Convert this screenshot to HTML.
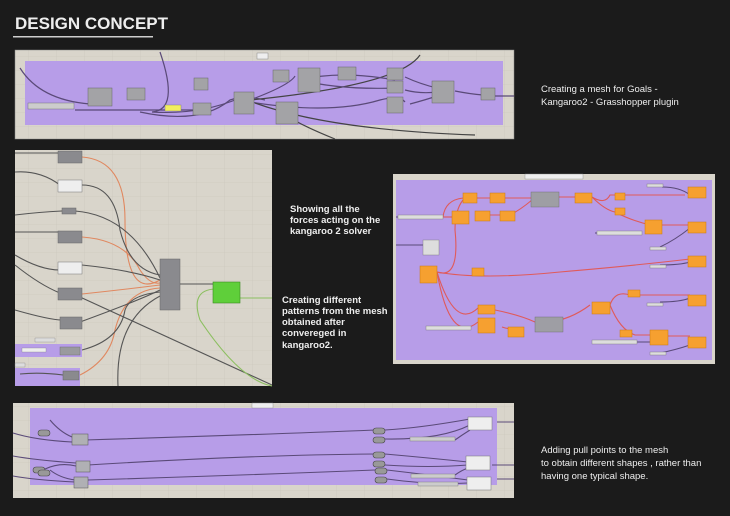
<!DOCTYPE html>
<html><head><meta charset="utf-8"><style>
html,body{margin:0;padding:0;background:#1b1b1b;}
svg{display:block}
text{font-family:"Liberation Sans",sans-serif;fill:#eee}
</style></head><body>
<svg width="730" height="516" viewBox="0 0 730 516" xmlns="http://www.w3.org/2000/svg">
<defs>
<pattern id="g" width="28" height="14" patternUnits="userSpaceOnUse"><rect width="28" height="14" fill="#d9d5cb"/><path d="M0 0H28M0 0V14" stroke="#c9c5ba" stroke-width="0.6"/></pattern>
</defs>
<rect width="730" height="516" fill="#1b1b1b"/>
<text x="15" y="29" font-size="17" font-weight="bold" fill="#f0f0f0">DESIGN CONCEPT</text>
<rect x="13" y="36" width="140" height="1.5" fill="#cfcfcf"/>

<!-- Panel 1 -->
<rect x="15" y="50" width="499" height="89" fill="url(#g)" stroke="#888" stroke-width="0.5"/>
<rect x="25" y="61" width="478" height="64" fill="#b79de8"/>
<rect x="257" y="53" width="11" height="6" fill="#eee" stroke="#777" stroke-width="0.4"/>
<g fill="none" stroke="#5a4a78" stroke-width="1.2">
<path d="M20 68 Q40 100 90 104"/><path d="M160 52 Q180 110 152 112 Q200 115 240 98"/>
<path d="M75 110 H195"/><path d="M140 112 Q200 125 230 100 Q245 95 265 100"/>
<path d="M250 100 Q290 85 295 76"/><path d="M250 100 Q400 85 420 55" stroke="#444"/>
<path d="M250 102 Q330 115 380 100 Q400 95 405 102"/><path d="M255 103 Q330 130 475 135" stroke="#444"/>
<path d="M300 80 Q340 70 395 80"/><path d="M300 80 Q340 90 395 88"/>
<path d="M405 77 Q420 84 437 88"/><path d="M405 90 Q420 94 437 92"/><path d="M410 104 Q425 100 437 96"/>
<path d="M455 91 Q470 94 483 95"/><path d="M495 96 H514"/>
<path d="M280 112 Q300 125 335 139" stroke="#444"/>
</g>
<g fill="#a3a3a6" stroke="#666" stroke-width="0.5">
<rect x="88" y="88" width="24" height="18"/><rect x="127" y="88" width="18" height="12"/>
<rect x="194" y="78" width="14" height="12"/><rect x="234" y="92" width="20" height="22"/>
<rect x="273" y="70" width="16" height="12"/><rect x="298" y="68" width="22" height="24"/>
<rect x="338" y="67" width="18" height="13"/><rect x="387" y="68" width="16" height="12"/>
<rect x="387" y="81" width="16" height="12"/><rect x="387" y="97" width="16" height="16"/>
<rect x="432" y="81" width="22" height="22"/><rect x="481" y="88" width="14" height="12"/>
<rect x="276" y="102" width="22" height="22"/><rect x="193" y="103" width="18" height="12"/>
</g>
<rect x="28" y="103" width="46" height="6" fill="#ccc" stroke="#666" stroke-width="0.4"/>
<rect x="165" y="105" width="16" height="6" fill="#f2ee60" stroke="#777" stroke-width="0.4"/>
<text x="541" y="92" font-size="9.5">Creating a mesh for Goals -</text>
<text x="541" y="105" font-size="9.5">Kangaroo2 - Grasshopper plugin</text>

<!-- Panel 2 -->
<rect x="15" y="150" width="257" height="236" fill="url(#g)"/>
<rect x="15" y="344" width="67" height="13" fill="#b79de8"/>
<rect x="15" y="368" width="65" height="18" fill="#b79de8"/>
<rect x="35" y="338" width="20" height="4" fill="#ddd" stroke="#777" stroke-width="0.3"/>
<rect x="15" y="363" width="10" height="4" fill="#ddd" stroke="#777" stroke-width="0.3"/>
<g fill="none" stroke-width="1.1">
<g stroke="#e08860">
<path d="M82 157 Q125 160 125 220 Q125 300 160 280"/><path d="M82 237 Q125 240 140 270 Q150 285 160 283"/>
<path d="M82 294 Q120 290 160 285"/><path d="M80 375 Q110 360 115 330 Q125 290 160 288"/>
</g>
<g stroke="#555">
<path d="M15 153 H58"/><path d="M15 172 Q40 170 60 185"/><path d="M82 185 Q115 185 120 230 Q130 270 160 275"/>
<path d="M15 215 Q40 212 62 211"/><path d="M75 211 Q130 215 160 278"/><path d="M15 232 H60"/>
<path d="M15 255 Q40 270 60 270"/><path d="M82 265 Q130 270 160 280"/>
<path d="M15 265 Q40 285 60 293"/><path d="M80 297 L272 385"/>
<path d="M15 310 Q50 320 62 320"/><path d="M80 322 Q140 300 160 290"/>
<path d="M82 350 Q120 340 125 310 Q130 295 160 292"/><path d="M118 386 Q115 320 160 296"/>
<path d="M20 374 Q40 372 63 375"/>
<path d="M180 284 H213"/>
</g>
<g stroke="#8cbf60"><path d="M240 298 H272"/><path d="M215 289 Q190 290 200 320 Q240 380 272 386"/></g>
</g>
<g fill="#8a8a8e" stroke="#666" stroke-width="0.5">
<rect x="58" y="151" width="24" height="12"/><rect x="62" y="208" width="14" height="6"/>
<rect x="58" y="231" width="24" height="12"/><rect x="58" y="288" width="24" height="12"/>
<rect x="60" y="317" width="22" height="12"/><rect x="63" y="371" width="16" height="9"/>
<rect x="160" y="259" width="20" height="51"/>
</g>
<rect x="58" y="180" width="24" height="12" fill="#eee" stroke="#777" stroke-width="0.5"/>
<rect x="58" y="262" width="24" height="12" fill="#eee" stroke="#777" stroke-width="0.5"/>
<rect x="60" y="347" width="20" height="8" fill="#9a9a9e" stroke="#666" stroke-width="0.4"/>
<rect x="22" y="348" width="24" height="4" fill="#eee" stroke="#777" stroke-width="0.3"/>
<rect x="213" y="282" width="27" height="21" fill="#5fcf3a" stroke="#3a8a20" stroke-width="0.6"/>
<text x="290" y="212" font-size="9.5" font-weight="bold">Showing all the</text>
<text x="290" y="223" font-size="9.5" font-weight="bold">forces acting on the</text>
<text x="290" y="234" font-size="9.5" font-weight="bold">kangaroo 2 solver</text>
<text x="282" y="303" font-size="9.5" font-weight="bold">Creating different</text>
<text x="282" y="314" font-size="9.5" font-weight="bold">patterns from the mesh</text>
<text x="282" y="325" font-size="9.5" font-weight="bold">obtained after</text>
<text x="282" y="336" font-size="9.5" font-weight="bold">convereged in</text>
<text x="282" y="348" font-size="9.5" font-weight="bold">kangaroo2.</text>

<!-- Panel 3 -->
<rect x="393" y="174" width="322" height="190" fill="#d9d5cb"/>
<rect x="396" y="180" width="316" height="180" fill="#b79de8"/>
<rect x="525" y="174" width="58" height="5" fill="#eee" stroke="#888" stroke-width="0.4"/>
<g fill="none" stroke="#e05a5a" stroke-width="1.1">
<path d="M443 217 Q445 200 463 198"/><path d="M443 217 H452"/>
<path d="M437 272 Q460 280 455 230 Q455 210 463 200"/><path d="M437 272 Q480 280 560 272 Q640 265 690 259"/>
<path d="M437 272 Q455 330 478 308"/><path d="M437 272 Q450 345 478 322"/>
<path d="M475 198 H490 M505 198 H532 M482 215 H500 M510 215 Q520 210 532 200"/>
<path d="M557 197 H575 M592 197 Q605 205 610 195 H685 M592 197 Q605 210 615 212 Q630 220 650 225 H690"/>
<path d="M495 310 Q520 315 535 322 M502 327 Q510 330 518 328 M548 322 Q570 320 590 305 M610 305 Q615 290 630 295 H690 M610 305 Q620 330 635 335 H655 M660 336 H690"/>
</g>
<g fill="none" stroke="#5a4a78" stroke-width="1"><path d="M396 217 H443 M396 245 H425 M662 187 Q680 187 690 195 M595 233 H640 M660 247 Q675 240 690 228 M660 265 Q680 265 690 262 M660 302 Q680 302 690 298 M595 342 H655 M660 353 Q675 350 690 345"/></g>
<g fill="#f6a030" stroke="#c97a10" stroke-width="0.5">
<rect x="463" y="193" width="14" height="10"/><rect x="490" y="193" width="15" height="10"/>
<rect x="452" y="211" width="17" height="13"/><rect x="475" y="211" width="15" height="10"/><rect x="500" y="211" width="15" height="10"/>
<rect x="575" y="193" width="17" height="10"/><rect x="615" y="193" width="10" height="7"/><rect x="615" y="208" width="10" height="7"/>
<rect x="645" y="220" width="17" height="14"/><rect x="420" y="266" width="17" height="17"/><rect x="472" y="268" width="12" height="8"/>
<rect x="478" y="305" width="17" height="9"/><rect x="478" y="318" width="17" height="15"/><rect x="508" y="327" width="16" height="10"/>
<rect x="592" y="302" width="18" height="12"/><rect x="628" y="290" width="12" height="7"/><rect x="620" y="330" width="12" height="7"/>
<rect x="650" y="330" width="18" height="15"/>
<rect x="688" y="187" width="18" height="11"/><rect x="688" y="222" width="18" height="11"/><rect x="688" y="256" width="18" height="11"/>
<rect x="688" y="295" width="18" height="11"/><rect x="688" y="337" width="18" height="11"/>
</g>
<g fill="#9e9ea4" stroke="#666" stroke-width="0.4"><rect x="531" y="192" width="28" height="15"/><rect x="535" y="317" width="28" height="15"/></g>
<rect x="423" y="240" width="16" height="15" fill="#ddd" stroke="#777" stroke-width="0.4"/>
<g fill="#ddd" stroke="#777" stroke-width="0.4"><rect x="398" y="215" width="45" height="4"/><rect x="597" y="231" width="45" height="4"/><rect x="426" y="326" width="45" height="4"/><rect x="592" y="340" width="45" height="4"/>
<rect x="647" y="184" width="16" height="3"/><rect x="650" y="247" width="16" height="3"/><rect x="650" y="265" width="16" height="3"/><rect x="647" y="303" width="16" height="3"/><rect x="650" y="352" width="16" height="3"/></g>

<!-- Panel 4 -->
<rect x="13" y="403" width="501" height="95" fill="url(#g)"/>
<rect x="30" y="408" width="467" height="77" fill="#b79de8"/>
<rect x="252" y="403" width="21" height="5" fill="#eee" stroke="#888" stroke-width="0.4"/>
<g fill="none" stroke="#5a4a78" stroke-width="1.1">
<path d="M13 433 Q35 440 72 442 M50 420 Q60 432 72 437 M85 440 Q250 435 375 430 M385 430 Q420 428 470 419 M385 439 Q440 440 470 425 M455 440 Q462 435 470 430"/>
<path d="M13 456 Q35 460 76 463 M45 469 Q60 462 76 466 M88 465 Q250 455 375 454 M385 454 Q430 458 468 462 M385 465 Q430 468 468 465 M455 475 Q462 470 468 468"/>
<path d="M13 476 Q35 480 75 482 M50 470 Q60 478 75 480"/>
<path d="M88 480 Q250 475 375 470"/>
<path d="M387 470 Q430 475 468 480 M387 479 Q430 485 468 483"/>
<path d="M497 422 H514 M492 465 H514 M497 479 H514"/>
</g>
<g fill="#b0b0b4" stroke="#555" stroke-width="0.5"><rect x="72" y="434" width="16" height="11"/><rect x="76" y="461" width="14" height="11"/><rect x="74" y="477" width="14" height="11"/></g>
<g fill="#999" stroke="#444" stroke-width="0.6">
<rect x="38" y="430" width="12" height="6" rx="3"/><rect x="33" y="467" width="12" height="6" rx="3"/><rect x="38" y="470" width="12" height="6" rx="3"/>
<rect x="373" y="428" width="12" height="6" rx="3"/><rect x="373" y="437" width="12" height="6" rx="3"/>
<rect x="373" y="452" width="12" height="6" rx="3"/><rect x="373" y="461" width="12" height="6" rx="3"/>
<rect x="375" y="468" width="12" height="6" rx="3"/><rect x="375" y="477" width="12" height="6" rx="3"/>
</g>
<g fill="#eee" stroke="#777" stroke-width="0.5"><rect x="468" y="417" width="24" height="13"/><rect x="466" y="456" width="24" height="14"/><rect x="467" y="477" width="24" height="13"/></g>
<g fill="#ccc" stroke="#777" stroke-width="0.4"><rect x="410" y="437" width="45" height="4"/><rect x="411" y="474" width="44" height="4"/><rect x="418" y="482" width="40" height="4"/></g>
<text x="541" y="453" font-size="9.5">Adding pull points to the mesh</text>
<text x="541" y="466" font-size="9.5">to obtain different shapes , rather than</text>
<text x="541" y="479" font-size="9.5">having one typical shape.</text>
</svg>
</body></html>
